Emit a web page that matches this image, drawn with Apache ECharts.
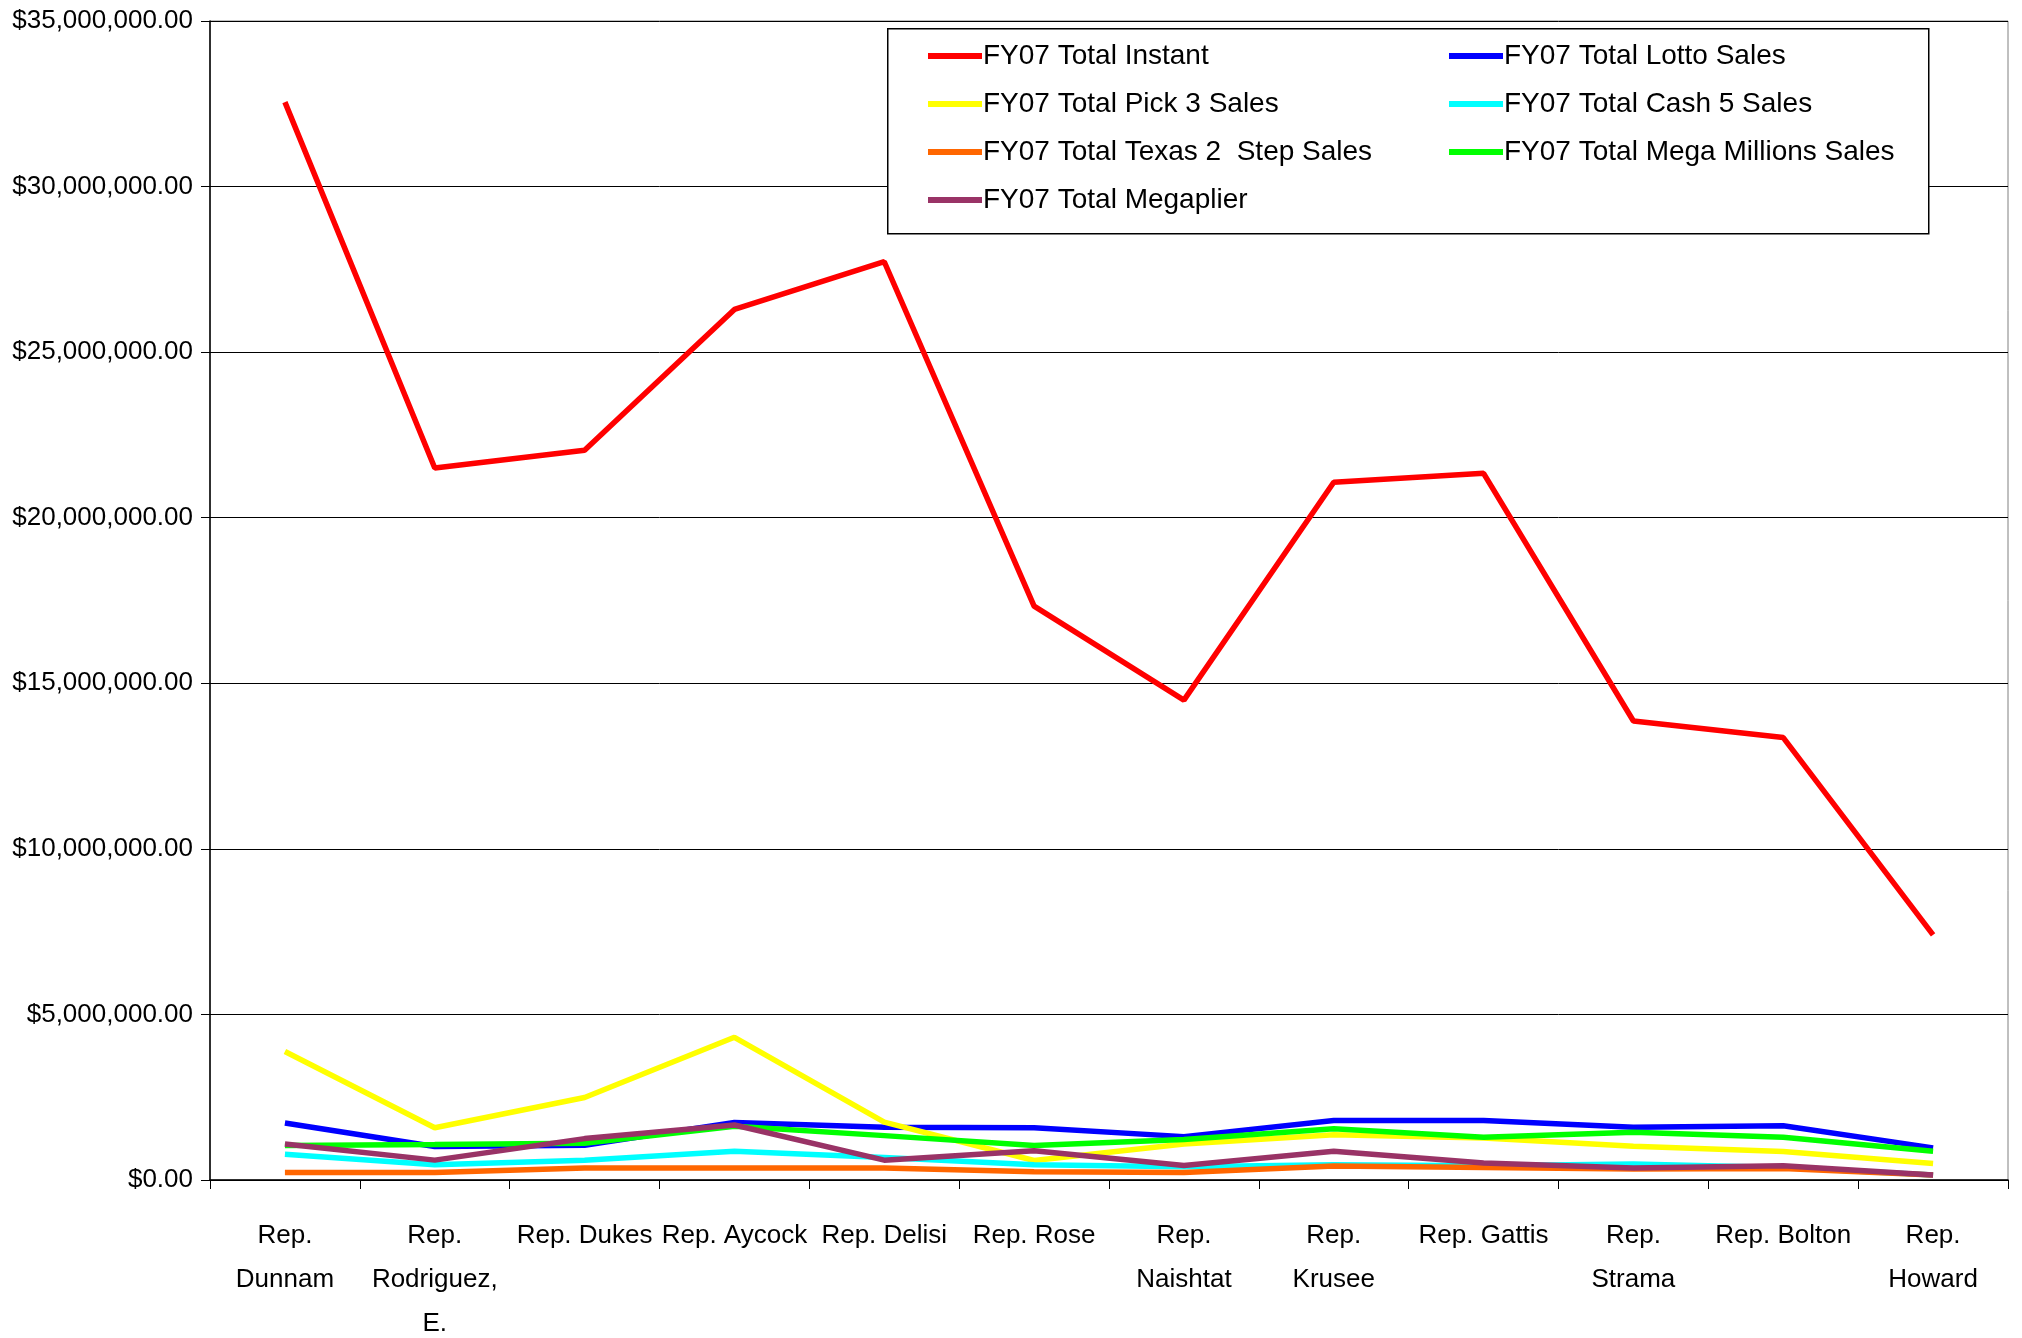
<!DOCTYPE html>
<html>
<head>
<meta charset="utf-8">
<script src="https://cdn.jsdelivr.net/npm/echarts@6/dist/echarts.min.js"></script>
<style>html,body{margin:0;padding:0;background:#fff;}#c{width:2022px;height:1338px;}</style>
</head>
<body>
<div id="c"></div>
<script>
const categories = ["Rep.\nDunnam", "Rep.\nRodriguez,\nE.", "Rep. Dukes", "Rep. Aycock", "Rep. Delisi", "Rep. Rose", "Rep.\nNaishtat", "Rep.\nKrusee", "Rep. Gattis", "Rep.\nStrama", "Rep. Bolton", "Rep.\nHoward"];
const totalInstant   = [32550000, 21500000, 22040000, 26290000, 27730000, 17330000, 14490000, 21070000, 21340000, 13860000, 13360000, 7400000];
const totalLotto     = [1720000, 1010000, 1050000, 1740000, 1590000, 1580000, 1310000, 1800000, 1800000, 1590000, 1640000, 970000];
const totalPick3     = [3880000, 1580000, 2490000, 4310000, 1750000, 590000, 1090000, 1370000, 1270000, 1020000, 860000, 500000];
const totalCash5     = [780000, 460000, 600000, 870000, 680000, 460000, 400000, 460000, 430000, 480000, 380000, 150000];
const totalTexas2    = [230000, 230000, 360000, 360000, 360000, 250000, 230000, 420000, 380000, 330000, 350000, 150000];
const totalMega      = [1040000, 1070000, 1110000, 1620000, 1340000, 1040000, 1220000, 1550000, 1290000, 1440000, 1290000, 870000];
const totalMegaplier = [1090000, 600000, 1250000, 1660000, 600000, 880000, 440000, 870000, 510000, 360000, 430000, 150000];
const seriesNames = ["FY07 Total Instant", "FY07 Total Lotto Sales", "FY07 Total Pick 3 Sales", "FY07 Total Cash 5 Sales", "FY07 Total Texas 2  Step Sales", "FY07 Total Mega Millions Sales", "FY07 Total Megaplier"];
const seriesColors = ["#FF0000", "#0000FF", "#FFFF00", "#00FFFF", "#FF6600", "#00FF00", "#993366"];
const seriesData = [totalInstant, totalLotto, totalPick3, totalCash5, totalTexas2, totalMega, totalMegaplier];

const FONT = "'Liberation Sans', Arial, sans-serif";
const chart = echarts.init(document.getElementById('c'), null, {renderer: 'canvas'});

const legendCommon = {
  orient: 'vertical',
  icon: 'rect',
  itemWidth: 54,
  itemHeight: 6,
  itemGap: 18,
  padding: 0,
  textStyle: {fontFamily: FONT, fontSize: 28, color: '#000', padding: [0, 0, 0, -4], lineHeight: 30},
  selectedMode: false
};

chart.setOption({
  animation: false,
  backgroundColor: '#fff',
  textStyle: {fontFamily: FONT},
  grid: {left: 210, right: 14, top: 21, bottom: 158, show: true, borderColor: '#808080', borderWidth: 1, outerBoundsMode: 'none', containLabel: false},
  graphic: [{
    type: 'rect', left: 887, top: 28, z: 5,
    shape: {width: 1041, height: 205},
    style: {fill: '#fff', stroke: '#000', lineWidth: 1.5}
  }],
  legend: [
    Object.assign({}, legendCommon, {left: 928, top: 41, z: 10, data: [seriesNames[0], seriesNames[2], seriesNames[4], seriesNames[6]]}),
    Object.assign({}, legendCommon, {left: 1449, top: 41, z: 10, data: [seriesNames[1], seriesNames[3], seriesNames[5]]})
  ],
  xAxis: {
    type: 'category',
    data: categories,
    boundaryGap: true,
    axisLine: {lineStyle: {color: '#000', width: 1.5}},
    axisTick: {show: true, length: 9, interval: 0, lineStyle: {color: '#000'}},
    axisLabel: {interval: 0, fontSize: 26, color: '#000', fontFamily: FONT, lineHeight: 44, margin: 34}
  },
  yAxis: {
    type: 'value',
    min: 0, max: 35000000, interval: 5000000,
    axisLine: {show: true, lineStyle: {color: '#000', width: 1.5}},
    axisTick: {show: true, length: 9, lineStyle: {color: '#000'}},
    splitLine: {show: true, lineStyle: {color: '#000', width: 1}},
    axisLabel: {
      fontSize: 26, color: '#000', fontFamily: FONT, margin: 17,
      formatter: v => '$' + v.toLocaleString('en-US', {minimumFractionDigits: 2, maximumFractionDigits: 2})
    }
  },
  series: seriesNames.map((n, i) => ({
    name: n,
    type: 'line',
    data: seriesData[i],
    symbol: 'none',
    color: seriesColors[i],
    lineStyle: {color: seriesColors[i], width: 5.5},
    itemStyle: {color: seriesColors[i]},
    z: 2 + i
  }))
});
</script>
</body>
</html>
